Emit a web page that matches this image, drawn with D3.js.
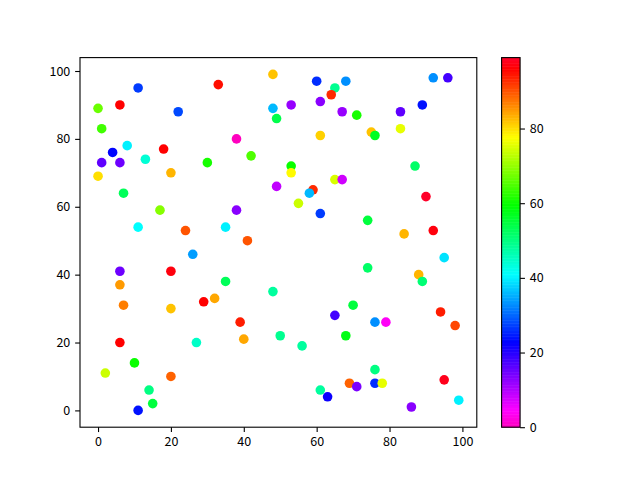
<!DOCTYPE html>
<html>
<head>
<meta charset="utf-8">
<script src="https://cdn.jsdelivr.net/npm/d3@7"></script>
<style>
  html, body { margin: 0; padding: 0; background: #fff; }
  svg { display: block; }
  text { font-family: "Noto Sans CJK SC", "Noto Sans", sans-serif; font-size: 12.5px; fill: #000; }
</style>
</head>
<body>
<svg id="chart" width="640" height="480"></svg>
<script>
// ---- data ----
const xValues = [11,33,0,6,22,1,8,18,4,1,6,13,30,0,20,7,17,11,24,
  48,60,68,65,64,48,53,61,67,49,38,61,42,53,53,65,67,49,59,58,55,61,38,35,41,
  92,96,71,89,83,75,76,83,87,90,74,84,92,
  26,6,20,6,7,20,29,32,6,27,10,2,20,14,15,11,
  35,48,39,40,50,56,65,68,61,63,
  95,74,88,89,70,94,98,76,79,76,69,71,76,78,95,99,86];
const yValues = [95,96,89,90,88,83,78,77,76,73,73,74,73,69,70,64,59,54,53,
  99,97,97,95,93,89,90,91,88,86,80,81,75,72,70,68,68,66,65,64,61,58,59,54,50,
  98,98,87,90,88,82,81,83,72,63,56,52,53,
  46,41,41,37,31,30,32,33,20,20,14,11,10,6,2,0,
  38,35,26,21,22,19,28,22,6,4,
  45,42,40,38,31,29,25,26,26,12,8,7,8,8,9,3,1];
const colorValues = [27,95,67,96,28,64,40,96,23,16,15,44,61,80,83,53,69,41,90,
  82,26,33,49,93,36,12,13,12,54,0,81,65,60,78,75,8,9,93,36,74,27,13,40,90,
  33,18,61,24,16,82,57,76,52,99,55,83,97,
  34,15,97,85,87,82,96,84,96,45,60,74,89,50,55,24,
  53,48,94,84,49,48,18,58,48,22,
  39,52,83,51,55,94,91,33,4,50,89,14,26,76,98,40,13];
const xTicks = [0,20,40,60,80,100];
const yTicks = [0,20,40,60,80,100];
const cTicks = [0,20,40,60,80];

// gist_rainbow segment data
const gistStops = [0.000,0.030,0.215,0.400,0.586,0.770,0.954,1.000];
const gistColors = ["rgb(255,0,41)","rgb(255,0,0)","rgb(255,255,0)","rgb(0,255,0)",
  "rgb(0,255,255)","rgb(0,0,255)","rgb(255,0,255)","rgb(255,0,191)"];

// ---- layout ----
const axL = 80, axT = 57.6, axB = 427.2;
const axR = 80 + 496 * 0.80;          // 476.8
const cbL = 80 + 496 * 0.85, cbW = (axB - axT) / 20;
const FONT = '"Noto Sans CJK SC", "Noto Sans", sans-serif';

const svg = d3.select("#chart");

const points = xValues.map((x, i) => ({x, y: yValues[i], c: colorValues[i]}));

const xExt = d3.extent(xValues), yExt = d3.extent(yValues), cExt = d3.extent(colorValues);
const xm = (xExt[1] - xExt[0]) * 0.05, ym = (yExt[1] - yExt[0]) * 0.05;

const x = d3.scaleLinear().domain([xExt[0] - xm, xExt[1] + xm]).range([axL, axR]);
const y = d3.scaleLinear().domain([yExt[0] - ym, yExt[1] + ym]).range([axB, axT]);

const gist = d3.scaleLinear().domain(gistStops).range(gistColors).interpolate(d3.interpolateRgb);
const norm = d3.scaleLinear().domain(cExt).range([0, 1]).clamp(true);
const cmap = v => gist(1 - norm(v));   // gist_rainbow_r

// points
svg.append("g").selectAll("circle").data(points).join("circle")
  .attr("cx", d => x(d.x)).attr("cy", d => y(d.y)).attr("r", 4.8)
  .attr("fill", d => cmap(d.c));

// axes
const tickLen = 4.86, pad = 4.86;
const xAxis = d3.axisBottom(x).tickValues(xTicks).tickSize(tickLen).tickPadding(pad).tickFormat(d3.format("d"));
const yAxis = d3.axisLeft(y).tickValues(yTicks).tickSize(tickLen).tickPadding(pad).tickFormat(d3.format("d"));

function style(g) {
  g.select(".domain").remove();
  g.selectAll(".tick line").attr("stroke", "#000").attr("stroke-width", 1.1);
  g.selectAll(".tick text").style("font-family", FONT).style("font-size", "12.5px").attr("fill", "#000");
}
style(svg.append("g").attr("transform", `translate(0,${axB})`).call(xAxis));
style(svg.append("g").attr("transform", `translate(${axL},0)`).call(yAxis));

// frame
svg.append("rect").attr("x", axL).attr("y", axT).attr("width", axR - axL).attr("height", axB - axT)
  .attr("fill", "none").attr("stroke", "#000").attr("stroke-width", 1.1);

// colorbar
const cb = d3.scaleLinear().domain(cExt).range([axB, axT]);
const N = 256;
const cbStep = (cExt[1] - cExt[0]) / N;
svg.append("g").selectAll("rect").data(d3.range(N)).join("rect")
  .attr("x", cbL).attr("width", cbW)
  .attr("y", i => cb(cExt[0] + (i + 1) * cbStep))
  .attr("height", i => cb(cExt[0] + i * cbStep) - cb(cExt[0] + (i + 1) * cbStep) + 0.5)
  .attr("fill", i => cmap(cExt[0] + (i + 0.5) * cbStep));

const cAxis = d3.axisRight(cb).tickValues(cTicks).tickSize(tickLen).tickPadding(pad).tickFormat(d3.format("d"));
style(svg.append("g").attr("transform", `translate(${cbL + cbW},0)`).call(cAxis));

svg.append("rect").attr("x", cbL).attr("y", axT).attr("width", cbW).attr("height", axB - axT)
  .attr("fill", "none").attr("stroke", "#000").attr("stroke-width", 1.1);
</script>
</body>
</html>
